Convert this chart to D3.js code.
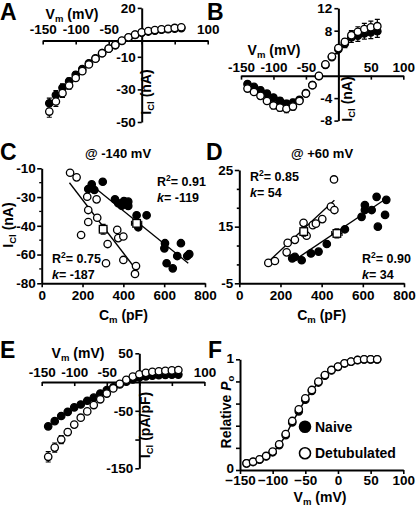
<!DOCTYPE html>
<html><head><meta charset="utf-8">
<script src="https://cdn.jsdelivr.net/npm/d3@7"></script>
<style>
body{margin:0;background:#fff}
svg text{font-family:"Liberation Sans",Arial,Helvetica,sans-serif;font-weight:bold;fill:#000}
</style>
</head><body>
<svg id="fig" width="416" height="506"></svg>
<script>
// ---------------- DATA ----------------
const vm = [-140,-130,-120,-110,-100,-90,-80,-70,-60,-50,-40,-30,-20,-10,0,10,20,30,40,50,60];

// Panel A: I_Cl (nA)
const aNaive      = [-38.5,-33.5,-29,-25,-21,-17.5,-14,-11,-7.8,-5,-2.8,-0.3,1.8,3.4,4.8,5.5,6.1,6.6,6.9,7.3,7.6];
const aNaiveErr   = [3.2,2.8,2.4,2,1.7,1.4,1.1,0.9,0.7,0.5,0.4,0.3,0.3,0.3,0.3,0.3,0.3,0.3,0.3,0.3,0.3];
const aDetub      = [-43.6,-37.4,-32.3,-27.6,-23,-18.8,-14.7,-11.2,-7.8,-5,-2.8,-0.1,2,3.6,5,5.8,6.4,6.9,7.2,7.7,8.1];
const aDetubErr   = [3.5,3,2.6,2.2,1.8,1.5,1.2,1,0.8,0.6,0.5,0.4,0.4,0.4,0.4,0.4,0.4,0.4,0.4,0.4,0.4];

// Panel B: I_Cl (nA)
const bNaive      = [-1.5,-2.0,-2.6,-3.2,-3.9,-4.5,-5.0,-4.8,-4.3,-3.1,-1.7,-0.1,1.9,3.3,4.7,5.7,6.8,7.1,7.5,7.7,7.9];
const bNaiveErr   = [0.4,0.4,0.5,0.5,0.5,0.6,0.6,0.6,0.5,0.4,0.3,0.3,0.3,0.4,0.5,0.7,0.9,1.0,1.0,1.1,1.1];
const bDetub      = [-2.3,-2.9,-3.6,-4.5,-5.3,-5.7,-5.9,-5.5,-4.5,-3.2,-1.7,-0.05,2.0,3.4,4.9,6.0,7.2,7.8,8.3,8.6,8.8];
const bDetubErr   = [0.4,0.4,0.5,0.5,0.6,0.6,0.7,0.6,0.5,0.4,0.3,0.3,0.3,0.4,0.5,0.6,0.8,0.9,1.0,1.1,1.2];

// Panel C: I_Cl at -140 mV vs Cm (pF) (y in axis units, axis labelled -10,-30,-40,-60,-80)
const cNaive = [[245,-19.8],[228,-22.6],[258,-23.2],[299,-18.2],[359,-28.9],[375,-31.3],[403,-29.9],[424,-30.3],[424,-32.9],[392,-32.8],[465,-38.6],[514,-38.6],[473,-45.9],[604,-55.6],[601,-58.7],[682,-55.6],[612,-67.8],[642,-70.9],[664,-63.4],[713,-63.4],[723,-62.2]];
const cDetub = [[139,-12.7],[171,-15.5],[223,-27.3],[269,-28.9],[228,-35.4],[272,-40.1],[228,-42.7],[193,-50.6],[323,-56.1],[315,-67.8],[370,-47.5],[375,-52.5],[400,-51.5],[400,-65.8],[462,-69.5],[457,-74.3]];
const cNaiveMean = {x:465, y:-43.5, xe:25, ye:2.5};
const cDetubMean = {x:301, y:-47.1, xe:18, ye:3};
const cNaiveFit = [[233,-19.1],[718,-67.8]];
const cDetubFit = [[136,-18.8],[462,-71.6]];
const cYTicks = [-80,-62.5,-45,-27.5,-10];
const cYLabels = ["-80","-60","-40","-30","-10"];

// Panel D: I_Cl at +60 mV vs Cm (pF) (axis labelled -5,15,25)
const dNaive = [[257,1.6],[270,2.0],[303,1.1],[348,2.9],[385,3.4],[425,5.4],[513,9.3],[594,12.6],[610,14.4],[610,15.7],[643,14.4],[667,17.9],[714,17.1],[673,10],[708,13.1]];
const dDetub = [[141,0.4],[173,0.9],[230,3.2],[235,5.7],[270,6.5],[312,11],[327,7.6],[357,10.4],[403,12],[445,15.3],[460,22.5],[462,14.4],[372,10.8]];
const dNaiveMean = {x:474, y:8.2, xe:25, ye:1.2};
const dDetubMean = {x:313, y:8.7, xe:18, ye:1.2};
const dNaiveFit = [[270,1.2],[716,17.5]];
const dDetubFit = [[133,0.3],[462,17]];
const dYTicks = [-5,0,5,10,15,20,25];
const dYLabels = ["-5","","","15","","","25"];

// Panel E: I_Cl density (pA/pF)
const eNaive    = [-77,-68,-59,-52,-44,-39,-32.5,-27,-20,-14,-9,-4,0.5,4.5,8,9.8,11,11.8,12.3,12.7,13];
const eDetub    = [-130,-114,-100,-87,-74,-62,-51,-40,-30,-20,-11,-3,4,9.5,13.5,16,17.7,18.8,19.6,20.3,21];
const eDetubErr = [9,8,7,5,4,3,2,1.5,1,1,1,1,1,1,1,1,1,1,1,1,1];

// Panel F: relative Po
const fNaive = [0.06,0.072,0.093,0.122,0.16,0.225,0.315,0.43,0.53,0.635,0.715,0.79,0.852,0.9,0.932,0.962,0.978,0.992,0.999,1.0,1.0];
const fDetub = [0.06,0.075,0.097,0.127,0.166,0.232,0.325,0.443,0.548,0.648,0.723,0.798,0.858,0.904,0.934,0.964,0.979,0.994,1.0,1.0,1.0];
const legendLabels = ["Naive","Detubulated"];

// ---------------- DRAWING ----------------
const svg = d3.select("#fig");
const R = 3.7;

function styleAxis(g){
  g.select(".domain").attr("stroke","#000").attr("stroke-width",2);
  g.selectAll(".tick line").attr("stroke","#000").attr("stroke-width",1.6);
  g.selectAll(".tick text").attr("font-size",13.5).attr("font-family",'"Liberation Sans",Arial,sans-serif').attr("font-weight","bold");
}
function letter(t,x,y){ svg.append("text").attr("x",x).attr("y",y).attr("font-size",23).text(t); }
function subTitle(g,x,y,main,sub,rest,rot,size){
  const t = g.append("text").attr("font-size",size||14).attr("text-anchor","middle")
    .attr("transform",`translate(${x},${y})`+(rot?" rotate(-90)":""));
  t.append("tspan").text(main);
  t.append("tspan").attr("font-size",(size||14)*0.68).attr("dy",3).text(sub);
  t.append("tspan").attr("dy",-3).text(rest);
  return t;
}
function errV(g,x,y,data,err,yscale,cap){
  g.selectAll(null).data(data.map((d,i)=>({v:vm[i],y:d,e:err[i]}))).enter().append("path")
    .attr("d",d=>{const xx=x(d.v),y1=yscale(d.y-d.e),y2=yscale(d.y+d.e);
      return `M${xx},${y1}V${y2}M${xx-cap},${y1}H${xx+cap}M${xx-cap},${y2}H${xx+cap}`;})
    .attr("stroke","#000").attr("stroke-width",1.2).attr("fill","none");
}
function dots(g,x,y,data,filled,xs){
  g.selectAll(null).data(data.map((d,i)=>xs?{a:d[0],b:d[1]}:{a:vm[i],b:d})).enter().append("circle")
    .attr("cx",d=>x(d.a)).attr("cy",d=>y(d.b)).attr("r",R)
    .attr("fill",filled?"#000":"#fff").attr("stroke","#000").attr("stroke-width",1.3);
}

// ---- IV-type panel (A, B, E) ----
function ivPanel(o){
  const g = svg.append("g");
  const x = d3.scaleLinear([-150,100],o.xr);
  const y = d3.scaleLinear(o.yd,o.yr);
  const xa = g.append("g").attr("transform",`translate(0,${y(0)})`)
    .call(d3.axisBottom(x).tickValues([-150,-100,-50,0,50,100]).tickSize(4).tickSizeOuter(0)
      .tickFormat(d=>o.xLab.includes(d)?d:""));
  styleAxis(xa);
  xa.selectAll(".tick text").attr("y",-o.lab).attr("dy",0);
  const ya = g.append("g").attr("transform",`translate(${x(0)},0)`)
    .call(d3.axisLeft(y).tickValues(o.yTicks).tickSize(4).tickSizeOuter(0)
      .tickFormat(d=>o.yLab.includes(d)?d:""));
  styleAxis(ya);
  ya.selectAll(".tick text").attr("x",-6);
  return {g,x,y};
}

// Panel A
letter("A",0,20);
{
  const p = ivPanel({xr:[42.7,207.7], yd:[-50,20], yr:[122,7.9], lab:6.5, xLab:[-150,-100,-50,100], yTicks:[20,-10,-30,-50], yLab:[20,-10,-30,-50]});
  errV(p.g,p.x,p.y,aNaive,aNaiveErr,p.y,2.5);
  errV(p.g,p.x,p.y,aDetub,aDetubErr,p.y,2.5);
  dots(p.g,p.x,p.y,aNaive,true);
  dots(p.g,p.x,p.y,aDetub,false);
  subTitle(p.g,72,19,"V","m"," (mV)");
  subTitle(p.g,151,92,"I","Cl"," (nA)",true);
}

// Panel B
letter("B",207,20);
{
  const p = ivPanel({xr:[241,403.3], yd:[-8,12], yr:[120.6,8.2], lab:4, xLab:[-150,-100,-50,50,100], yTicks:[12,8,4,-4,-8], yLab:[12,8,-4,-8]});
  errV(p.g,p.x,p.y,bNaive,bNaiveErr,p.y,2.5);
  errV(p.g,p.x,p.y,bDetub,bDetubErr,p.y,2.5);
  dots(p.g,p.x,p.y,bNaive,true);
  dots(p.g,p.x,p.y,bDetub,false);
  subTitle(p.g,274,55,"V","m"," (mV)");
  subTitle(p.g,352,99,"I","Cl"," (nA)",true);
}

// ---- scatter panels (C, D) ----
function scatterPanel(o){
  const g = svg.append("g");
  const x = d3.scaleLinear([0,800],o.xr);
  const y = d3.scaleLinear(o.yd,o.yr);
  const xa = g.append("g").attr("transform",`translate(0,${o.yr[0]})`)
    .call(d3.axisBottom(x).tickValues([0,200,400,600,800]).tickSize(4).tickSizeOuter(0));
  styleAxis(xa);
  xa.selectAll(".tick text").attr("y",7);
  const ya = g.append("g").attr("transform",`translate(${o.xr[0]},0)`)
    .call(d3.axisLeft(y).tickValues(o.yTicks).tickSize(4).tickSizeOuter(0).tickFormat((d,i)=>o.yLab[i]));
  styleAxis(ya);
  ya.selectAll(".tick line").attr("x2",(d,i)=>o.yLab[i]===""?-2.5:-4.5);
  ya.selectAll(".tick text").attr("x",-6);
  if(o.minor){
    g.selectAll(null).data(o.minor).enter().append("line")
      .attr("x1",o.xr[0]).attr("x2",o.xr[0]-2.5).attr("y1",d=>y(d)).attr("y2",d=>y(d))
      .attr("stroke","#000").attr("stroke-width",1.3);
  }
  const line = d3.line().x(d=>x(d[0])).y(d=>y(d[1]));
  o.fits.forEach(f=>g.append("path").attr("d",line(f)).attr("stroke","#000").attr("stroke-width",1.3).attr("fill","none"));
  dots(g,x,y,o.naive,true,true);
  dots(g,x,y,o.detub,false,true);
  [[o.nMean,true],[o.dMean,false]].forEach(([m,f])=>{
    const cx=x(m.x), cy=y(m.y);
    g.append("path").attr("d",`M${x(m.x-m.xe)},${cy}H${x(m.x+m.xe)}M${x(m.x-m.xe)},${cy-2.5}V${cy+2.5}M${x(m.x+m.xe)},${cy-2.5}V${cy+2.5}M${cx},${y(m.y-m.ye)}V${y(m.y+m.ye)}M${cx-2.5},${y(m.y-m.ye)}H${cx+2.5}M${cx-2.5},${y(m.y+m.ye)}H${cx+2.5}`)
      .attr("stroke","#000").attr("stroke-width",1.2).attr("fill","none");
    g.append("rect").attr("x",cx-3.8).attr("y",cy-3.8).attr("width",7.6).attr("height",7.6)
      .attr("fill","#fff").attr("stroke","#000").attr("stroke-width",1.3);
  });
  subTitle(g,(o.xr[0]+o.xr[1])/2,320,"C","m"," (pF)");
  return {g,x,y};
}
function stat(g,x,y,r2,k){
  const t=g.append("text").attr("x",x).attr("y",y).attr("font-size",12.5);
  t.append("tspan").text("R");
  t.append("tspan").attr("font-size",8.5).attr("dy",-5).text("2");
  t.append("tspan").attr("dy",5).text("= "+r2);
  const t2=g.append("text").attr("x",x).attr("y",y+16).attr("font-size",12.5);
  t2.append("tspan").attr("font-style","italic").text("k");
  t2.append("tspan").text("= "+k);
}

letter("C",0,160);
{
  const p = scatterPanel({xr:[41.7,205], yd:[-80,-10], yr:[283.3,168.3], yTicks:cYTicks, yLab:cYLabels,
    minor:[-71.25,-53.75,-36.25,-18.75], naive:cNaive, detub:cDetub, nMean:cNaiveMean, dMean:cDetubMean, fits:[cNaiveFit,cDetubFit]});
  p.g.append("text").attr("x",118).attr("y",158).attr("text-anchor","middle").attr("font-size",13).text("@ -140 mV");
  stat(p.g,157,186,"0.91","-119");
  stat(p.g,52,263,"0.75","-187");
  subTitle(p.g,12.5,225,"I","Cl"," (nA)",true);
}

letter("D",206,160);
{
  const p = scatterPanel({xr:[239.3,404], yd:[-5,25], yr:[283.3,170], yTicks:dYTicks, yLab:dYLabels,
    minor:null, naive:dNaive, detub:dDetub, nMean:dNaiveMean, dMean:dDetubMean, fits:[dNaiveFit,dDetubFit]});
  p.g.append("text").attr("x",322).attr("y",158).attr("text-anchor","middle").attr("font-size",13).text("@ +60 mV");
  stat(p.g,250,181,"0.85","54");
  stat(p.g,362,263,"0.90","34");
}

// Panel E
letter("E",0,358);
{
  const p = ivPanel({xr:[41.7,204.4], yd:[-150,50], yr:[468.3,353.3], lab:5, xLab:[-150,-100,-50,100], yTicks:[50,-50,-100,-150], yLab:[50,-50,-150]});
  errV(p.g,p.x,p.y,eDetub,eDetubErr,p.y,2.5);
  dots(p.g,p.x,p.y,eNaive,true);
  dots(p.g,p.x,p.y,eDetub,false);
  subTitle(p.g,78,358,"V","m"," (mV)");
  subTitle(p.g,150,425,"I","Cl"," (pA/pF)",true);
}

// Panel F
letter("F",208,358);
{
  const g = svg.append("g");
  const x = d3.scaleLinear([-150,100],[240,403.3]);
  const y = d3.scaleLinear([0,1],[470,359.3]);
  const xa = g.append("g").attr("transform",`translate(0,${y(0)})`)
    .call(d3.axisBottom(x).tickValues([-150,-100,-50,0,50,100]).tickSize(4).tickSizeOuter(0));
  styleAxis(xa);
  xa.selectAll(".tick text").attr("y",5);
  const ya = g.append("g").attr("transform",`translate(${x(-150)},0)`)
    .call(d3.axisLeft(y).tickValues([0,0.2,0.4,0.6,0.8,1]).tickSize(4).tickSizeOuter(0).tickFormat(d=>(d===0||d===1)?d:""));
  styleAxis(ya);
  ya.selectAll(".tick text").attr("x",-6).attr("dy","0.2em");
  const line = d3.line().x((d,i)=>x(vm[i])).y(d=>y(d)).curve(d3.curveMonotoneX);
  g.append("path").attr("d",line(fNaive)).attr("stroke","#000").attr("stroke-width",1.5).attr("fill","none");
  dots(g,x,y,fNaive,true);
  dots(g,x,y,fDetub,false);
  subTitle(g,320,501.5,"V","m"," (mV)");
  const t = g.append("text").attr("font-size",14).attr("text-anchor","middle").attr("transform","translate(231,412) rotate(-90)");
  t.append("tspan").text("Relative ");
  t.append("tspan").attr("font-style","italic").text("P");
  t.append("tspan").attr("font-size",9.5).attr("dy",3).text("o");
  legendLabels.forEach((lab,i)=>{
    g.append("circle").attr("cx",305).attr("cy",426.7+i*26.6).attr("r",5.5)
      .attr("fill",i===0?"#000":"#fff").attr("stroke","#000").attr("stroke-width",1.6);
    g.append("text").attr("x",315).attr("y",431.7+i*26.6).attr("font-size",14).text(lab);
  });
}
</script>
</body></html>
